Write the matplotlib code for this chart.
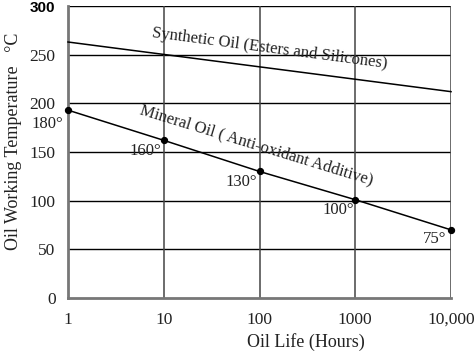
import numpy as np
import matplotlib
matplotlib.use('Agg')
import matplotlib.pyplot as plt

# Data
mineral_hours = [1, 10, 100, 1000, 10000]
mineral_temp = [193, 162, 130, 101, 70]
mineral_labels = ['180°', '160°', '130°', '100°', '75°']

synthetic_hours = [1, 10000]
synthetic_temp = [263, 212]

x_ticks = [1, 10, 100, 1000, 10000]
x_ticklabels = ['1', '10', '100', '1000', '10,000']
y_ticks = [0, 50, 100, 150, 200, 250, 300]
y_ticklabels = ['0', '50', '100', '150', '200', '250', '300']

plt.rcParams['font.family'] = ['Liberation Serif', 'DejaVu Serif']

fig = plt.figure(figsize=(4.75, 3.57), dpi=100)
ax = fig.add_axes([68 / 475, 59 / 357, 383 / 475, 292 / 357])

ax.set_xscale('log')
ax.set_xlim(1, 10000)
ax.set_ylim(0, 300)

# grid lines
for yv in y_ticks[1:]:
    ax.axhline(yv, color='black', lw=1.0, zorder=1)
for xv in x_ticks[1:]:
    ax.axvline(xv, color='#444444', lw=1.1, zorder=1)

ax.plot(synthetic_hours, synthetic_temp, color='black', lw=1.1, zorder=3, clip_on=False)
ax.plot(mineral_hours, mineral_temp, color='black', lw=1.1, zorder=3, clip_on=False)
ax.scatter(mineral_hours, mineral_temp, s=18, color='black', zorder=4, clip_on=False)

# point labels, placed below-left of each point
offsets = [(-15, -10), (-13, -8), (-13, -7.5), (-12, -7.5), (-12, -6.5)]
for h, t, lab, (dx, dy) in zip(mineral_hours, mineral_temp, mineral_labels, offsets):
    ax.annotate(lab, (h, t), xytext=(dx, dy), textcoords='offset points',
                ha='center', va='center', fontsize=12, color='#222222')

ax.text(129, 256, 'Synthetic Oil (Esters and Silicones)', rotation=-7.5,
        rotation_mode='anchor', ha='center', va='center', fontsize=12, color='#222222')
ax.text(92, 157, 'Mineral Oil ( Anti-oxidant Additive)', rotation=-17,
        rotation_mode='anchor', ha='center', va='center', fontsize=12, color='#222222')

for side in ['top', 'right']:
    ax.spines[side].set_visible(False)
for side in ['left', 'bottom']:
    ax.spines[side].set_color('#777777')
    ax.spines[side].set_linewidth(2)

ax.set_xticks(x_ticks)
ax.set_xticklabels(x_ticklabels)
ax.minorticks_off()
ax.set_yticks(y_ticks)
ax.set_yticklabels(y_ticklabels)
ax.tick_params(length=0, labelsize=12.5, labelcolor='#222222')
ax.tick_params(axis='x', pad=10)
ax.tick_params(axis='y', pad=9)
top_label = ax.get_yticklabels()[-1]
top_label.set_fontfamily('Liberation Sans')
top_label.set_fontweight('bold')
top_label.set_fontsize(11)
top_label.set_color('black')

ax.set_xlabel('Oil Life (Hours)', fontsize=13, color='#222222')
ax.xaxis.set_label_coords(0.621, -0.151)
ax.set_ylabel('Oil Working Temperature   °C', fontsize=13, color='#222222')
ax.yaxis.set_label_coords(-0.141, 0.538)
ax.xaxis.label.set_va('center')
ax.yaxis.label.set_va('center')

fig.savefig('out.png', dpi=100)
